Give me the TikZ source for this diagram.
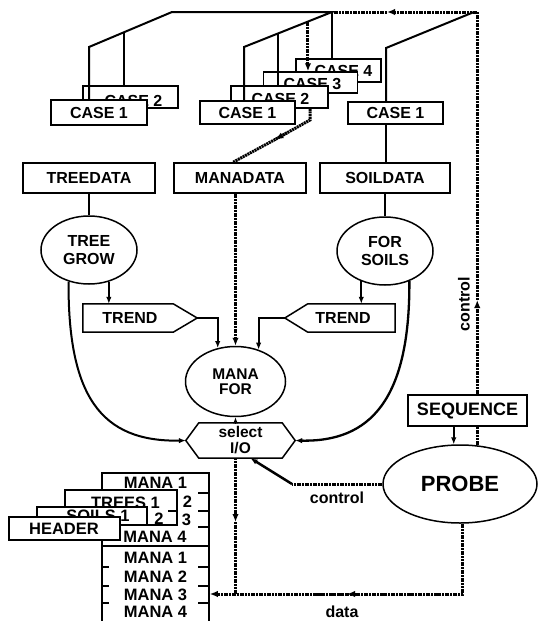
\documentclass[tikz,border=0pt]{standalone}
\usepackage{fontspec}
\setmainfont{Liberation Sans}
\usetikzlibrary{arrows.meta,shapes.geometric,calc}
\newcommand\casefnt{\fontsize{16}{18}\selectfont\bfseries}
\newcommand\datafnt{\fontsize{16.5}{18}\selectfont\bfseries}
\begin{document}
\begin{tikzpicture}[x=1pt,y=-1pt,
  box/.style={draw, line width=1.5pt, fill=white, inner sep=0pt, minimum width=95pt, minimum height=23pt, font=\casefnt},
  dbox/.style={draw, line width=1.5pt, fill=white, inner sep=0pt},
  ell/.style={draw, ellipse, line width=1.5pt, fill=white, inner sep=0pt, align=center, font=\casefnt},
  shp/.style={line width=1.5pt, line join=miter},
  lbl/.style={inner sep=0pt, font=\casefnt},
  dlbl/.style={inner sep=0pt, font=\datafnt},
  conn/.style={line width=2pt},
  arr/.style={conn, -{Latex[length=7pt,width=5.5pt]}},
  dotl/.style={line width=3pt, dash pattern=on 2pt off 0.7pt},
  darr/.style={dotl, -{Latex[length=8pt,width=6.5pt]}},
  tick/.style={line width=1.5pt}]
\useasboundingbox (0,0) rectangle (538,621);

% ---------- left case stack
\node[box, minimum width=95pt, minimum height=22pt] (lc2) at (130.5,97) {};
\node[lbl] at ([shift={(3pt,-4pt)}]lc2.center) {CASE 2};
\node[box, minimum width=96pt, minimum height=25pt] (lc1) at (99,112.5) {CASE 1};

% ---------- middle case stack
\node[box, minimum width=85pt] (mc4) at (338.5,70.5) {};
\node[lbl] at ([shift={(5pt,0pt)}]mc4.center) {CASE 4};
\node[box, minimum width=94pt, minimum height=21pt] (mc3) at (310.5,82.5) {};
\node[lbl] at ([shift={(2pt,-2pt)}]mc3.center) {CASE 3};
\node[box, minimum width=97pt, minimum height=22pt] (mc2) at (279.5,97) {};
\node[lbl] at ([shift={(1pt,-2pt)}]mc2.center) {CASE 2};
\node[box] (mc1) at (247.5,112.5) {CASE 1};

% ---------- right case
\node[box, minimum height=22pt] (rc1) at (395.5,113) {CASE 1};

% ---------- data boxes
\node[box, minimum width=132pt, minimum height=30pt] (treed) at (89,178) {TREEDATA};
\node[box, minimum width=132pt, minimum height=30pt] (manad) at (240,178) {MANADATA};
\node[box, minimum width=130pt, minimum height=30pt] (soild) at (385,178) {SOILDATA};

% ---------- process ellipses
\node[ell, minimum width=96pt, minimum height=68pt] (tg) at (89,250) {TREE\\GROW};
\node[ell, minimum width=96pt, minimum height=68pt] (fs) at (385,251) {FOR\\SOILS};
\node[ell, minimum width=100pt, minimum height=70pt, font=\fontsize{15.5}{14.5}\selectfont\bfseries] (mf) at (235.5,381.5) {MANA\\FOR};
\node[ell, minimum width=154pt, minimum height=78pt, font=\fontsize{22}{24}\selectfont\bfseries] (pr) at (460,484) {PROBE};

% ---------- TREND shapes
\node[inner sep=0pt, minimum width=90pt, minimum height=28pt] (trl) at (128,318) {};
\draw[shp, fill=white] (trl.north west) -- (trl.north east) -- ([xshift=24pt]trl.east) -- (trl.south east) -- (trl.south west) -- cycle;
\node[lbl] at (130,318) {TREND};
\node[inner sep=0pt, minimum width=87pt, minimum height=28pt] (trr) at (351.5,318) {};
\draw[shp, fill=white] (trr.north east) -- (trr.north west) -- ([xshift=-23pt]trr.west) -- (trr.south west) -- (trr.south east) -- cycle;
\node[lbl] at (343,318) {TREND};

% ---------- select I/O
\node[inner sep=0pt, minimum width=83pt, minimum height=35pt, align=center, font=\fontsize{15.5}{16}\selectfont\bfseries] (sio) at (240.5,440.5) {select\\I/O};
\draw[shp] (sio.north west) -- (sio.north east) -- ([xshift=13pt]sio.east) -- (sio.south east) -- (sio.south west) -- ([xshift=-13pt]sio.west) -- cycle;
\coordinate (siow) at ([xshift=-13pt]sio.west);
\coordinate (sioe) at ([xshift=13pt]sio.east);

% ---------- tree connectors at the top
\coordinate (lt) at (172,12);
\coordinate (lk) at (89,47);
\coordinate (lb) at ($(lt)!0.578!(lk)$);
\coordinate (mt) at (332,12);
\coordinate (mk) at (244,47);
\coordinate (mb2) at ($(mt)!0.614!(mk)$);
\coordinate (mb3) at ($(mt)!0.273!(mk)$);
\coordinate (rt) at (474,12);
\coordinate (rk) at (386,48);
\draw[conn] (lk |- lc1.north) -- (lk) -- (lt) -- (mt) -- (mk) -- (mk |- mc1.north);
\draw[conn] (lb) -- (lb |- lc2.north);
\draw[conn] (mb2) -- (mb2 |- mc2.north);
\draw[conn] (mt) -- (mt |- mc4.north);
\draw[darr] (mb3) -- (mb3 |- mc3.north);
\draw[conn] (rt) -- (rk) -- (rk |- rc1.north);
\draw[conn] (rc1.south -| rk) -- (rk |- soild.north);

% ---------- CASE 2 -> MANADATA (dotted)
\coordinate (d1) at (310,120);
\coordinate (d2) at (233,163);
\coordinate (dmid) at ($(d1)!0.45!(d2)$);
\draw[dotl] (d1 |- mc2.south) -- (d1) -- (dmid);
\draw[darr] ($(d1)!0.3!(d2)$) -- (dmid);
\draw[dotl] (dmid) -- (d2 |- manad.north);

% ---------- data -> process
\draw[conn] (treed.south) -- (tg.north);
\draw[conn] (soild.south) -- (fs.north);
\draw[darr] (mf.north |- manad.south) -- (mf.north);
\draw[arr] (tg.-58) -- (tg.-58 |- trl.north);
\draw[arr] (fs.232) -- (fs.232 |- trr.north);
\coordinate (trltip) at ([xshift=24pt]trl.east);
\coordinate (trrtip) at ([xshift=-23pt]trr.west);
\draw[arr] (trltip) -- (trltip -| mf.118) -- (mf.118);
\draw[arr] (trrtip) -- (trrtip -| mf.54) -- (mf.54);
\draw[arr] (tg.237) .. controls (68,395) and (100,442) .. (siow);
\draw[arr, line width=2.3pt] (fs.-51) .. controls (410,400) and (370,442) .. (sioe);
\draw[-{Latex[length=6pt,width=5pt]}, line width=1.5pt] (sio.north -| mf.south) -- (mf.south);

% ---------- control loop on the right
\node[box, minimum width=119pt, minimum height=31pt, font=\fontsize{18}{20}\selectfont\bfseries] (seq) at (467.5,410.5) {SEQUENCE};
\coordinate (y300) at (0,300);
\coordinate (y12) at (0,12);
\coordinate (y594) at (0,594);
\coordinate (y522) at (0,522);
\coordinate (x292) at (292,0);
\coordinate (ca) at (pr.66 |- y300);
\coordinate (rtop) at (pr.66 |- y12);
\coordinate (ma) at (387,12);
\draw[dotl] (pr.66) -- (pr.66 |- seq.south);
\draw[darr] (pr.66 |- seq.north) -- (ca);
\draw[dotl] (ca) -- (rtop);
\draw[darr] (rtop) -- (ma);
\draw[dotl] (ma) -- (mt);
\draw[conn] (rtop) -- (rt);
\draw[arr] (seq.south -| pr.99) -- (pr.99);
\node[lbl, rotate=90] at (464,304) {control};

% ---------- bottom control / data
\coordinate (cb) at (pr.west -| x292);
\draw[dotl] (pr.west) -- (cb);
\draw[arr, line width=2.5pt] (cb) -- ([xshift=10pt]sio.south);
\node[lbl] at (337,498) {control};

% ---------- file stack
\node[dbox, minimum width=107pt, minimum height=167pt] (mb) at (155.5,556.5) {};
\coordinate (dR) at (pr.-86 |- y594);
\coordinate (dM) at (347,594);
\coordinate (dL) at (mb.east |- y594);
\coordinate (sx) at (mf.south |- sio.south);
\coordinate (sm) at (mf.south |- y522);
\draw[dotl] (pr.-86) -- (dR) -- ([xshift=-30pt]dM);
\draw[darr] (dR) -- (dM);
\draw[darr] (dM) -- (dL);
\draw[darr] (sx) -- (sm);
\draw[dotl] (sm) -- (sm |- y594);
\node[lbl] at (342,612) {data};

\draw[tick] (mb.west |- 0,546) -- (mb.east |- 0,546);
\foreach \yy in {493,511,527} \draw[tick] (198,\yy) -- (mb.east |- 0,\yy);
\foreach \yy in {567,586,603} {\draw[tick] (198,\yy) -- (mb.east |- 0,\yy); \draw[tick] (mb.west |- 0,\yy) -- (109,\yy);}
\node[dlbl] at (155.5,483) {MANA 1};
\node[dlbl] at (187.5,502) {2};
\node[dlbl] at (186.5,520) {3};
\node[dlbl] at (155,537) {MANA 4};
\node[dlbl] at (155.5,558) {MANA 1};
\node[dlbl] at (155.5,577) {MANA 2};
\node[dlbl] at (155.5,595) {MANA 3};
\node[dlbl] at (155.5,612) {MANA 4};

\node[dbox, minimum width=112pt, minimum height=35pt] (trees) at (121,507.5) {};
\draw[tick] (168,511) -- (trees.east |- 0,511);
\node[dlbl] at (125.5,503) {TREES 1};
\node[dlbl] at (159,519) {2};

\node[dbox, minimum width=110pt, minimum height=18pt] (soils) at (92,516) {};
\node[dlbl] at (98,516) {SOILS 1};

\node[dbox, minimum width=111pt, minimum height=23pt] (header) at (64.5,528.5) {};
\node[dlbl] at (64,529) {HEADER};
\end{tikzpicture}
\end{document}
